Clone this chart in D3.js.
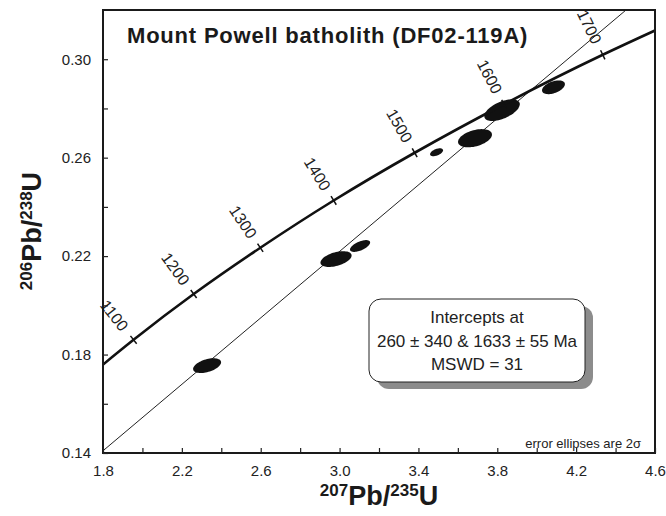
<!DOCTYPE html>
<html>
<head>
<meta charset="utf-8">
<script src="https://cdn.jsdelivr.net/npm/d3@7"></script>
<style>
  body { margin: 0; background: #fff; }
  svg { font-family: "Liberation Sans", Arial, sans-serif; }
</style>
</head>
<body>
<div id="my_dataviz"></div>
<script>
// axis ticks
var xTicks = [1.8, 2.2, 2.6, 3.0, 3.4, 3.8, 4.2, 4.6];
var xMinor = [2.0, 2.4, 2.8, 3.2, 3.6, 4.0, 4.4];
var yTicks = [0.14, 0.18, 0.22, 0.26, 0.30];
var yMinor = [0.16, 0.20, 0.24, 0.28];

// concordia points (Ma -> 207Pb/235U, 206Pb/238U)
var concAges = [1000, 1100, 1200, 1300, 1400, 1500, 1600, 1700, 1800];
var concX = [1.677, 1.955, 2.260, 2.598, 2.970, 3.381, 3.834, 4.335, 4.887];
var concY = [0.1678, 0.1860, 0.2046, 0.2234, 0.2426, 0.2620, 0.2817, 0.3018, 0.3221];
var labelAges = [1100, 1200, 1300, 1400, 1500, 1600, 1700];

// discordia line ends
var discX = [1.8, 4.453];
var discY = [0.1409, 0.320];

// analyses (2 sigma half-widths and correlation)
var ellX   = [2.328, 2.982, 3.104, 3.492, 3.687, 3.824, 4.085];
var ellY   = [0.1755, 0.2188, 0.2241, 0.2622, 0.2679, 0.2793, 0.2886];
var ellSx  = [0.071, 0.079, 0.051, 0.033, 0.086, 0.090, 0.058];
var ellSy  = [0.0030, 0.0032, 0.0024, 0.0016, 0.0037, 0.0044, 0.0028];
var ellRho = [0.45, 0.45, 0.6, 0.5, 0.4, 0.55, 0.45];

var boxLines = ["Intercepts at", "260 \u00b1 340 & 1633 \u00b1 55 Ma", "MSWD = 31"];

var margin = {top: 10, right: 11, bottom: 63, left: 103},
    width = 666 - margin.left - margin.right,
    height = 516 - margin.top - margin.bottom;

var svg = d3.select("#my_dataviz")
  .append("svg")
    .attr("width", 666)
    .attr("height", 516)
  .append("g")
    .attr("transform", "translate(" + margin.left + "," + margin.top + ")");

var x = d3.scaleLinear().domain([1.8, 4.6]).range([0, width]);
var y = d3.scaleLinear().domain([0.14, 0.32]).range([height, 0]);

svg.append("clipPath").attr("id", "clip")
  .append("rect").attr("width", width).attr("height", height);

// title
svg.append("text")
  .attr("x", 24).attr("y", 33)
  .style("font-size", "22px").style("font-weight", "bold")
  .style("letter-spacing", "0.8px")
  .attr("fill", "#1a1a1a")
  .text("Mount Powell batholith (DF02-119A)");

var plot = svg.append("g").attr("clip-path", "url(#clip)");

// discordia
plot.append("path")
  .datum(d3.zip(discX, discY))
  .attr("d", d3.line().x(function(d) { return x(d[0]); }).y(function(d) { return y(d[1]); }))
  .attr("stroke", "#222").attr("stroke-width", 1).attr("fill", "none");

// ellipses
var ell = d3.range(ellX.length).map(function(i) {
  var r = Math.sqrt(1 - ellRho[i] * ellRho[i]);
  return d3.range(0, 64).map(function(k) {
    var t = k / 64 * 2 * Math.PI;
    return [x(ellX[i] + ellSx[i] * Math.cos(t)),
            y(ellY[i] + ellSy[i] * (ellRho[i] * Math.cos(t) + r * Math.sin(t)))];
  });
});
plot.selectAll(".ell").data(ell).enter().append("path")
  .attr("d", function(d) { return d3.line().curve(d3.curveLinearClosed)(d); })
  .attr("fill", "#111");

// concordia
var concPts = concAges.map(function(a, i) { return [x(concX[i]), y(concY[i])]; });
plot.append("path")
  .datum(concPts)
  .attr("d", d3.line().curve(d3.curveNatural))
  .attr("stroke", "#111").attr("stroke-width", 2.6).attr("fill", "none");

// age ticks and labels
labelAges.forEach(function(a) {
  var i = concAges.indexOf(a);
  var p = concPts[i], p0 = concPts[i - 1], p1 = concPts[i + 1];
  var ang = Math.atan2(p1[1] - p0[1], p1[0] - p0[0]);
  var nx = Math.sin(ang), ny = -Math.cos(ang);
  svg.append("line")
    .attr("x1", p[0] - 5 * nx).attr("y1", p[1] - 5 * ny)
    .attr("x2", p[0] + 5 * nx).attr("y2", p[1] + 5 * ny)
    .attr("stroke", "#111").attr("stroke-width", 1.5);
  var lx = p[0] + 31 * nx, ly = p[1] + 31 * ny;
  svg.append("text")
    .attr("transform", "translate(" + lx + "," + ly + ") rotate(" + (ang * 180 / Math.PI + 90) + ")")
    .attr("text-anchor", "middle").attr("dy", "0.35em")
    .style("font-size", "16px").attr("fill", "#222")
    .text(a);
});

// frame
svg.append("rect")
  .attr("width", width).attr("height", height)
  .attr("fill", "none").attr("stroke", "#1a1a1a").attr("stroke-width", 2);

// axes
var xAxis = svg.append("g").attr("transform", "translate(0," + height + ")")
  .call(d3.axisBottom(x).tickValues(xTicks.concat(xMinor)).tickSize(-5)
    .tickFormat(function(d) { return xTicks.indexOf(d) >= 0 ? d3.format(".1f")(d) : ""; }));
xAxis.select(".domain").remove();
xAxis.selectAll("text").attr("y", 12).style("font-size", "15px").attr("fill", "#222");

var yAxis = svg.append("g")
  .call(d3.axisLeft(y).tickValues(yTicks.concat(yMinor)).tickSize(-5)
    .tickFormat(function(d) { return yTicks.indexOf(d) >= 0 ? d3.format(".2f")(d) : ""; }));
yAxis.select(".domain").remove();
yAxis.selectAll("text").attr("x", -12).style("font-size", "15px").attr("fill", "#222");
svg.selectAll(".tick line").attr("stroke", "#222").attr("stroke-width", 1.2);

// axis titles
var xt = svg.append("text")
  .attr("x", 276).attr("y", 495)
  .attr("text-anchor", "middle")
  .style("font-weight", "bold").style("font-size", "27px").attr("fill", "#1a1a1a");
xt.append("tspan").style("font-size", "17px").attr("baseline-shift", "super").text("207");
xt.append("tspan").text("Pb/");
xt.append("tspan").style("font-size", "17px").attr("baseline-shift", "super").text("235");
xt.append("tspan").text("U");

var yt = svg.append("text")
  .attr("transform", "translate(-62," + 221 + ") rotate(-90)")
  .attr("text-anchor", "middle")
  .style("font-weight", "bold").style("font-size", "27px").attr("fill", "#1a1a1a");
yt.append("tspan").style("font-size", "17px").attr("baseline-shift", "super").text("206");
yt.append("tspan").text("Pb/");
yt.append("tspan").style("font-size", "17px").attr("baseline-shift", "super").text("238");
yt.append("tspan").text("U");

// intercept box
var bx = 266, by = 289, bw = 216, bh = 83;
svg.append("rect").attr("x", bx + 8).attr("y", by + 7).attr("width", bw).attr("height", bh)
  .attr("rx", 12).attr("fill", "#8c8c8c");
svg.append("rect").attr("x", bx).attr("y", by).attr("width", bw).attr("height", bh)
  .attr("rx", 12).attr("fill", "#fff").attr("stroke", "#222").attr("stroke-width", 1);
boxLines.forEach(function(t, i) {
  svg.append("text")
    .attr("x", bx + bw / 2).attr("y", by + 24 + i * 23.5)
    .attr("text-anchor", "middle")
    .style("font-size", "17px").attr("fill", "#222")
    .text(t);
});

svg.append("text")
  .attr("x", width - 14).attr("y", height - 5)
  .attr("text-anchor", "end")
  .style("font-size", "13px").attr("fill", "#222")
  .text("error ellipses are 2\u03c3");
</script>
</body>
</html>
